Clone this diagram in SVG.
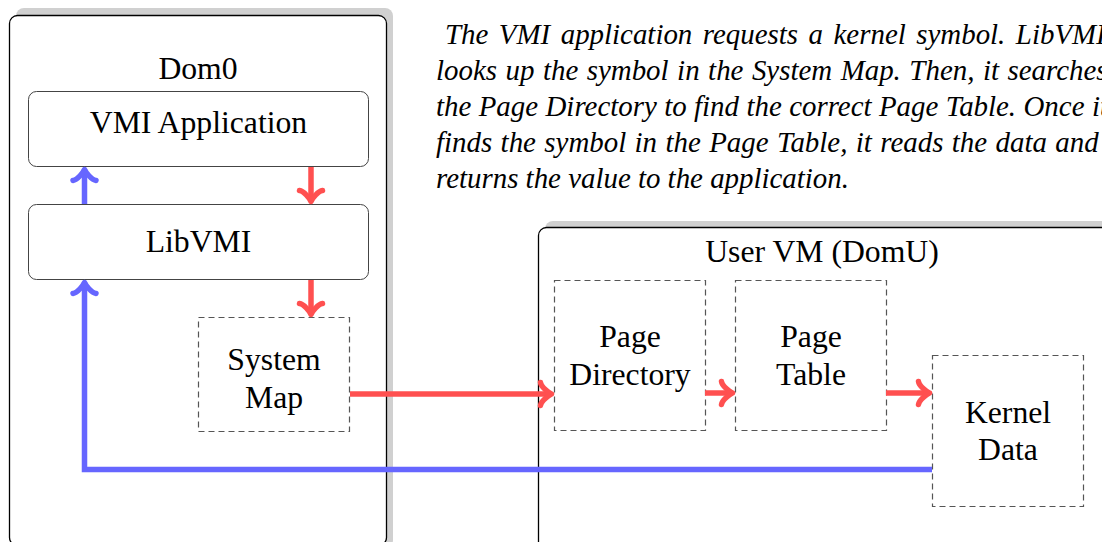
<svg xmlns="http://www.w3.org/2000/svg" width="1102" height="542" viewBox="0 0 1102 542">
<style>
.lbl{font-family:"Liberation Serif","Times New Roman",serif;font-size:31.7px;fill:#000;text-anchor:middle}
.cap{font-family:"Liberation Serif","Times New Roman",serif;font-size:28.9px;font-style:italic;fill:#000}
.shadow{fill:#d0d0d0;stroke:none}
.domain{fill:#fff;stroke:#000;stroke-width:1.3}
.solid{fill:#fff;stroke:#444;stroke-width:1}
.dash{fill:#fff;stroke:#555;stroke-width:1.2;stroke-dasharray:6 4}
.red{fill:none;stroke:#ff5050;stroke-width:5.5;stroke-linejoin:miter}
.blue{fill:none;stroke:#6666ff;stroke-width:5.5;stroke-linejoin:miter}
</style>
<defs>
<marker id="arR" markerUnits="userSpaceOnUse" orient="auto" overflow="visible" markerWidth="1" markerHeight="1" refX="0" refY="0">
<path d="M -11,-11.5 C -10.5,-7 -2.5,-1 0,0 C -2.5,1 -10.5,7 -11,11.5" fill="none" stroke="#ff5050" stroke-width="5.5" stroke-linecap="round" stroke-linejoin="round"/>
</marker>
<marker id="arB" markerUnits="userSpaceOnUse" orient="auto" overflow="visible" markerWidth="1" markerHeight="1" refX="0" refY="0">
<path d="M -11,-11.5 C -10.5,-7 -2.5,-1 0,0 C -2.5,1 -10.5,7 -11,11.5" fill="none" stroke="#6666ff" stroke-width="5.5" stroke-linecap="round" stroke-linejoin="round"/>
</marker>
</defs>
<rect width="1102" height="542" fill="#fff"/>

<g id="caption" class="cap">
<text x="445" y="44" word-spacing="3.3">The VMI application requests a kernel symbol. LibVMI</text>
<text x="436" y="80" word-spacing="1.3">looks up the symbol in the System Map. Then, it searches</text>
<text x="436" y="116" word-spacing="0.2">the Page Directory to find the correct Page Table. Once it</text>
<text x="436" y="152" word-spacing="1.2">finds the symbol in the Page Table, it reads the data and</text>
<text x="436" y="188">returns the value to the application.</text>
</g>

<g id="dom0">
<rect class="shadow" x="16" y="8" width="377" height="540" rx="8"/>
<rect class="domain" x="9.5" y="15.5" width="377" height="530" rx="8"/>
<text class="lbl" x="198" y="79">Dom0</text>
</g>

<g id="domu">
<rect class="shadow" x="545" y="221" width="600" height="330" rx="8"/>
<rect class="domain" x="538.5" y="227.5" width="600" height="330" rx="8"/>
<text class="lbl" x="822" y="262">User VM (DomU)</text>
</g>

<g id="vmi-application">
<rect class="solid" x="28.5" y="91.5" width="340" height="75" rx="8"/>
<text class="lbl" x="198.5" y="133">VMI Application</text>
</g>

<g id="libvmi">
<rect class="solid" x="28.5" y="204.5" width="340" height="75" rx="8"/>
<text class="lbl" x="198.5" y="252">LibVMI</text>
</g>

<g id="system-map">
<rect class="dash" x="198.5" y="317.5" width="151" height="114"/>
<text class="lbl" x="274" y="370">System</text>
<text class="lbl" x="274" y="408">Map</text>
</g>

<g id="page-directory">
<rect class="dash" x="554.5" y="280.5" width="151" height="150"/>
<text class="lbl" x="630" y="347">Page</text>
<text class="lbl" x="630" y="385">Directory</text>
</g>

<g id="page-table">
<rect class="dash" x="735.5" y="280.5" width="151" height="150"/>
<text class="lbl" x="811" y="347">Page</text>
<text class="lbl" x="811" y="385">Table</text>
</g>

<g id="kernel-data">
<rect class="dash" x="932.5" y="355.5" width="151" height="151"/>
<text class="lbl" x="1008" y="423">Kernel</text>
<text class="lbl" x="1008" y="460">Data</text>
</g>

<g id="connectors">
<path class="red" d="M 311,167 L 311,201.5" marker-end="url(#arR)"/>
<path class="red" d="M 311,280 L 311,314.5" marker-end="url(#arR)"/>
<path class="red" d="M 350,394 L 551.5,394" marker-end="url(#arR)"/>
<path class="red" d="M 705,393 L 732.5,393" marker-end="url(#arR)"/>
<path class="red" d="M 886,393 L 929.5,393" marker-end="url(#arR)"/>
<path class="blue" d="M 84.5,204 L 84.5,169.5" marker-end="url(#arB)"/>
<path class="blue" d="M 932,469.5 L 84.5,469.5 L 84.5,282.5" marker-end="url(#arB)"/>
</g>
</svg>
